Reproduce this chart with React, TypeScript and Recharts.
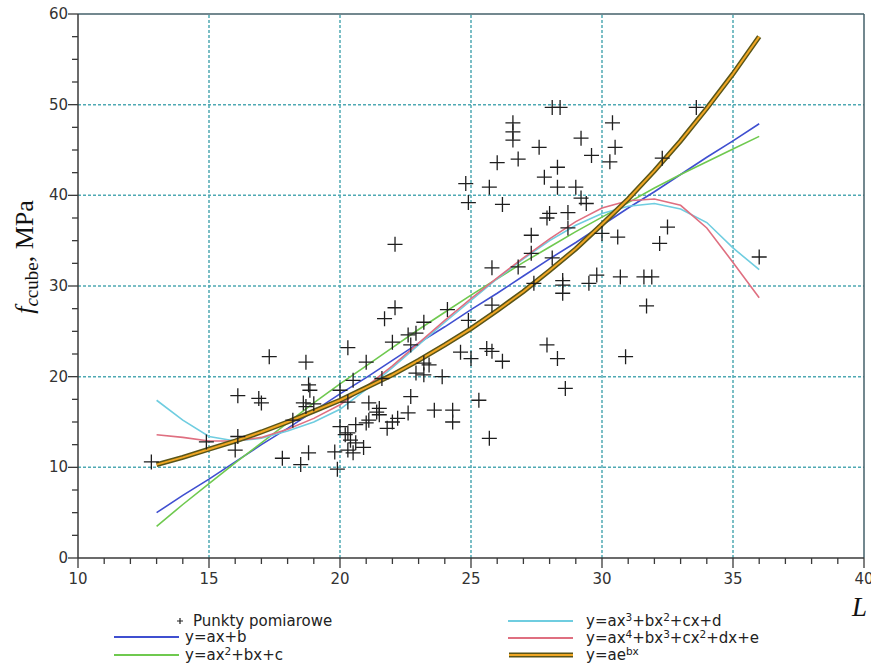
import React from 'react'
import { ComposedChart, Line, Scatter, XAxis, YAxis, ReferenceLine, Label } from 'recharts'

// measured points [L, fc,cube]
const measuredPoints: Array<[number, number]> = [
  [12.8, 10.6], [14.9, 12.8], [16.0, 11.9], [16.1, 13.4], [16.1, 17.9],
  [16.9, 17.6], [17.0, 17.1], [17.3, 22.2], [17.8, 11.0], [18.2, 15.2],
  [18.5, 10.3], [18.6, 17.1], [18.7, 16.7], [18.7, 21.6], [18.8, 11.6],
  [18.8, 19.1], [18.85, 18.5], [19.0, 17.0], [19.8, 11.7], [19.9, 9.8],
  [20.0, 14.5], [20.0, 18.5], [20.2, 13.6], [20.3, 11.9], [20.3, 13.8],
  [20.3, 17.2], [20.3, 23.2], [20.4, 13.0], [20.5, 19.6], [20.5, 11.6],
  [20.6, 14.7], [20.6, 12.7], [20.9, 12.2], [21.0, 21.6], [21.0, 14.9],
  [21.1, 17.1], [21.1, 15.2], [21.4, 16.1], [21.5, 15.8], [21.5, 16.5],
  [21.6, 19.8], [21.7, 26.4], [21.8, 14.3], [22.0, 15.0], [22.0, 23.8],
  [22.1, 27.6], [22.1, 34.6], [22.2, 15.4], [22.6, 16.0], [22.6, 24.6],
  [22.7, 17.8], [22.7, 23.5], [22.9, 24.8], [22.9, 20.4], [23.2, 20.2],
  [23.2, 21.5], [23.2, 26.0], [23.4, 21.3], [23.6, 16.3], [23.9, 20.0],
  [24.1, 27.4], [24.3, 16.3], [24.3, 15.0], [24.6, 22.7], [24.8, 41.3],
  [24.9, 39.2], [24.9, 26.2], [25.0, 22.0], [25.3, 17.4], [25.6, 23.1],
  [25.7, 13.2], [25.7, 40.9], [25.8, 22.8], [25.8, 27.9], [25.8, 32.0],
  [26.0, 43.6], [26.2, 21.7], [26.2, 39.0], [26.6, 48.0], [26.6, 47.0],
  [26.6, 46.1], [26.8, 44.0], [26.8, 32.1], [27.3, 35.6], [27.3, 33.6],
  [27.4, 30.3], [27.6, 45.3], [27.8, 42.0], [27.9, 37.5], [27.9, 23.5],
  [28.0, 38.0], [28.1, 49.7], [28.1, 33.1], [28.3, 43.1], [28.3, 40.9],
  [28.3, 22.0], [28.4, 49.7], [28.5, 30.6], [28.5, 30.1], [28.5, 29.2],
  [28.6, 18.7], [28.7, 38.1], [28.7, 36.4], [29.0, 40.9], [29.2, 46.3],
  [29.2, 39.7], [29.4, 39.1], [29.5, 30.3], [29.6, 44.4], [29.8, 31.2],
  [30.0, 35.8], [30.3, 43.7], [30.4, 48.0], [30.5, 45.3], [30.6, 35.4],
  [30.7, 31.0], [30.9, 22.2], [31.6, 31.0], [31.7, 27.8], [31.9, 31.0],
  [32.2, 34.7], [32.3, 44.1], [32.5, 36.5], [33.6, 49.7], [36.0, 33.2],
]

// fitted curves, read at these L values
const fitL = [13, 14, 15, 16, 17, 18, 19, 20, 21, 22, 23, 24, 25, 26, 27, 28, 29, 30, 31, 32, 33, 34, 35, 36]
const linearFit = [5.0, 6.9, 8.7, 10.6, 12.5, 14.3, 16.2, 18.1, 19.9, 21.8, 23.7, 25.5, 27.4, 29.2, 31.1, 33.0, 34.8, 36.7, 38.6, 40.4, 42.3, 44.2, 46.0, 47.9]
const quadFit = [3.5, 5.9, 8.2, 10.5, 12.7, 14.9, 17.1, 19.2, 21.2, 23.2, 25.2, 27.1, 29.0, 30.8, 32.6, 34.3, 36.0, 37.6, 39.2, 40.8, 42.3, 43.7, 45.1, 46.5]
const cubicFit = [17.4, 15.2, 13.4, 12.9, 13.2, 14.0, 15.0, 16.4, 18.6, 21.0, 23.5, 26.0, 28.4, 30.8, 33.0, 35.0, 36.7, 38.0, 38.8, 39.1, 38.5, 37.0, 34.2, 31.8]
const quarticFit = [13.6, 13.3, 12.9, 12.9, 13.3, 14.2, 15.4, 16.9, 18.9, 21.2, 23.7, 26.2, 28.6, 30.9, 33.1, 35.2, 37.1, 38.6, 39.4, 39.6, 38.9, 36.4, 32.6, 28.7]
const expFit = [10.3, 11.1, 12.0, 12.9, 13.9, 15.0, 16.2, 17.4, 18.8, 20.2, 21.8, 23.5, 25.3, 27.3, 29.4, 31.7, 34.1, 36.8, 39.6, 42.7, 46.0, 49.6, 53.4, 57.5]

const xTicks = [10, 11, 12, 13, 14, 15, 16, 17, 18, 19, 20, 21, 22, 23, 24, 25, 26, 27, 28, 29, 30, 31, 32, 33, 34, 35, 36, 37, 38, 39, 40]
const yTicks = [0, 2.5, 5, 7.5, 10, 12.5, 15, 17.5, 20, 22.5, 25, 27.5, 30, 32.5, 35, 37.5, 40, 42.5, 45, 47.5, 50, 52.5, 55, 57.5, 60]
const xGrid = [15, 20, 25, 30, 35]
const yGrid = [10, 20, 30, 40, 50]

const points = measuredPoints.map(([L, f]) => ({ L, f }))
const fitRows = fitL.map((L, i) => ({
  L,
  lin: linearFit[i],
  quad: quadFit[i],
  cubic: cubicFit[i],
  quart: quarticFit[i],
  exp: expFit[i],
}))

const AXIS = '#3a3a3a'
const GRID = '#4fa9b3'
const TICK_FONT = 'DejaVu Sans, sans-serif'

const Cross = (props: any) => {
  const { cx, cy } = props
  if (cx == null || cy == null) return null
  return (
    <path
      d={`M${cx - 7.5},${cy}H${cx + 7.5}M${cx},${cy - 7.5}V${cy + 7.5}`}
      stroke="#1e1e1e"
      strokeWidth={1.3}
      fill="none"
    />
  )
}

const XTick = (props: any) => {
  const { x, y, payload } = props
  const major = payload.value % 5 === 0
  const axisY = y - 12
  return (
    <g>
      <line x1={x} x2={x} y1={axisY} y2={axisY + (major ? 10 : 6)} stroke={AXIS} strokeWidth={1.3} />
      {major && (
        <text x={x} y={axisY + 26} textAnchor="middle" fontSize={15} fontFamily={TICK_FONT} fill="#333">
          {payload.value}
        </text>
      )}
    </g>
  )
}

const YTick = (props: any) => {
  const { x, y, payload } = props
  const major = payload.value % 10 === 0
  const axisX = x + 10
  return (
    <g>
      <line x1={axisX} x2={axisX - (major ? 10 : 6)} y1={y} y2={y} stroke={AXIS} strokeWidth={1.3} />
      {major && (
        <text x={axisX - 10} y={y + 5} textAnchor="end" fontSize={15} fontFamily={TICK_FONT} fill="#333">
          {payload.value}
        </text>
      )}
    </g>
  )
}

const YTitle = () => (
  <text transform="translate(33,257) rotate(-90)" textAnchor="middle" fontFamily="Liberation Serif, serif" fill="#111">
    <tspan fontStyle="italic" fontSize={26}>f</tspan>
    <tspan fontStyle="italic" fontSize={19} dy={5}>c</tspan>
    <tspan fontSize={19}>cube</tspan>
    <tspan fontSize={26} dy={-5}>, MPa</tspan>
  </text>
)

const XTitle = () => (
  <text x={867} y={616} textAnchor="end" fontStyle="italic" fontSize={27} fontFamily="Liberation Serif, serif" fill="#111">
    L
  </text>
)

const legendText: React.CSSProperties = {
  position: 'absolute',
  fontFamily: TICK_FONT,
  fontSize: 15,
  lineHeight: '18px',
  color: '#222',
  whiteSpace: 'nowrap',
}
const sup: React.CSSProperties = { fontSize: '0.7em', verticalAlign: '0.45em', lineHeight: 0 }

function Swatch({ left, top, color, exp }: { left: number; top: number; color: string; exp?: boolean }) {
  return (
    <svg style={{ position: 'absolute', left, top: top - 5 }} width={66} height={10}>
      {exp ? (
        <>
          <line x1={1} x2={65} y1={5} y2={5} stroke="#5a5518" strokeWidth={5} />
          <line x1={1} x2={65} y1={5} y2={5} stroke="#f0a623" strokeWidth={2} />
        </>
      ) : (
        <line x1={0} x2={65} y1={5} y2={5} stroke={color} strokeWidth={1.8} />
      )}
    </svg>
  )
}

export default function App() {
  return (
    <div style={{ position: 'absolute', left: 0, top: 0, width: 871, height: 672, background: '#fff' }}>
      <ComposedChart width={871} height={672} margin={{ top: 14, right: 7, bottom: 84, left: 38 }}>
        <XAxis
          dataKey="L"
          type="number"
          domain={[10, 40]}
          ticks={xTicks}
          interval={0}
          tick={<XTick />}
          tickLine={false}
          tickSize={10}
          tickMargin={2}
          height={30}
          axisLine={{ stroke: AXIS, strokeWidth: 1.5 }}
        >
          <Label content={<XTitle />} />
        </XAxis>
        <YAxis
          type="number"
          domain={[0, 60]}
          ticks={yTicks}
          interval={0}
          tick={<YTick />}
          tickLine={false}
          tickSize={10}
          tickMargin={0}
          width={40}
          axisLine={{ stroke: AXIS, strokeWidth: 1.5 }}
        >
          <Label content={<YTitle />} />
        </YAxis>
        {xGrid.map((v) => (
          <ReferenceLine key={`gx${v}`} x={v} stroke={GRID} strokeWidth={1.5} strokeDasharray="3 2" />
        ))}
        {yGrid.map((v) => (
          <ReferenceLine key={`gy${v}`} y={v} stroke={GRID} strokeWidth={1.5} strokeDasharray="3 2" />
        ))}
        <ReferenceLine y={60} stroke="#44606a" strokeWidth={1.5} />
        <ReferenceLine x={40} stroke="#44606a" strokeWidth={1.5} />
        <Scatter data={points} dataKey="f" shape={<Cross />} isAnimationActive={false} />
        <Line data={fitRows} dataKey="lin" type="linear" stroke="#3f4fd0" strokeWidth={1.6} dot={false} isAnimationActive={false} />
        <Line data={fitRows} dataKey="quad" type="linear" stroke="#6fc94f" strokeWidth={1.6} dot={false} isAnimationActive={false} />
        <Line data={fitRows} dataKey="cubic" type="linear" stroke="#6fcde0" strokeWidth={1.6} dot={false} isAnimationActive={false} />
        <Line data={fitRows} dataKey="quart" type="linear" stroke="#df6f80" strokeWidth={1.6} dot={false} isAnimationActive={false} />
        <Line data={fitRows} dataKey="exp" type="linear" stroke="#5a5518" strokeWidth={5} dot={false} isAnimationActive={false} />
        <Line data={fitRows} dataKey="exp" type="linear" stroke="#f0a623" strokeWidth={2} dot={false} isAnimationActive={false} />
      </ComposedChart>

      {/* legend */}
      <svg style={{ position: 'absolute', left: 175, top: 616 }} width={10} height={10}>
        <path d="M2,5H8M5,2V8" stroke="#222" strokeWidth={1.2} />
      </svg>
      <div style={{ ...legendText, left: 193, top: 612 }}>Punkty pomiarowe</div>
      <Swatch left={114} top={637} color="#3f4fd0" />
      <div style={{ ...legendText, left: 185, top: 628 }}>y=ax+b</div>
      <Swatch left={114} top={655} color="#6fc94f" />
      <div style={{ ...legendText, left: 185, top: 646 }}>
        y=ax<span style={sup}>2</span>+bx+c
      </div>

      <Swatch left={508} top={621} color="#6fcde0" />
      <div style={{ ...legendText, left: 586, top: 612 }}>
        y=ax<span style={sup}>3</span>+bx<span style={sup}>2</span>+cx+d
      </div>
      <Swatch left={508} top={638} color="#df6f80" />
      <div style={{ ...legendText, left: 586, top: 629 }}>
        y=ax<span style={sup}>4</span>+bx<span style={sup}>3</span>+cx<span style={sup}>2</span>+dx+e
      </div>
      <Swatch left={508} top={655} color="#000" exp />
      <div style={{ ...legendText, left: 586, top: 646 }}>
        y=ae<span style={sup}>bx</span>
      </div>
    </div>
  )
}
